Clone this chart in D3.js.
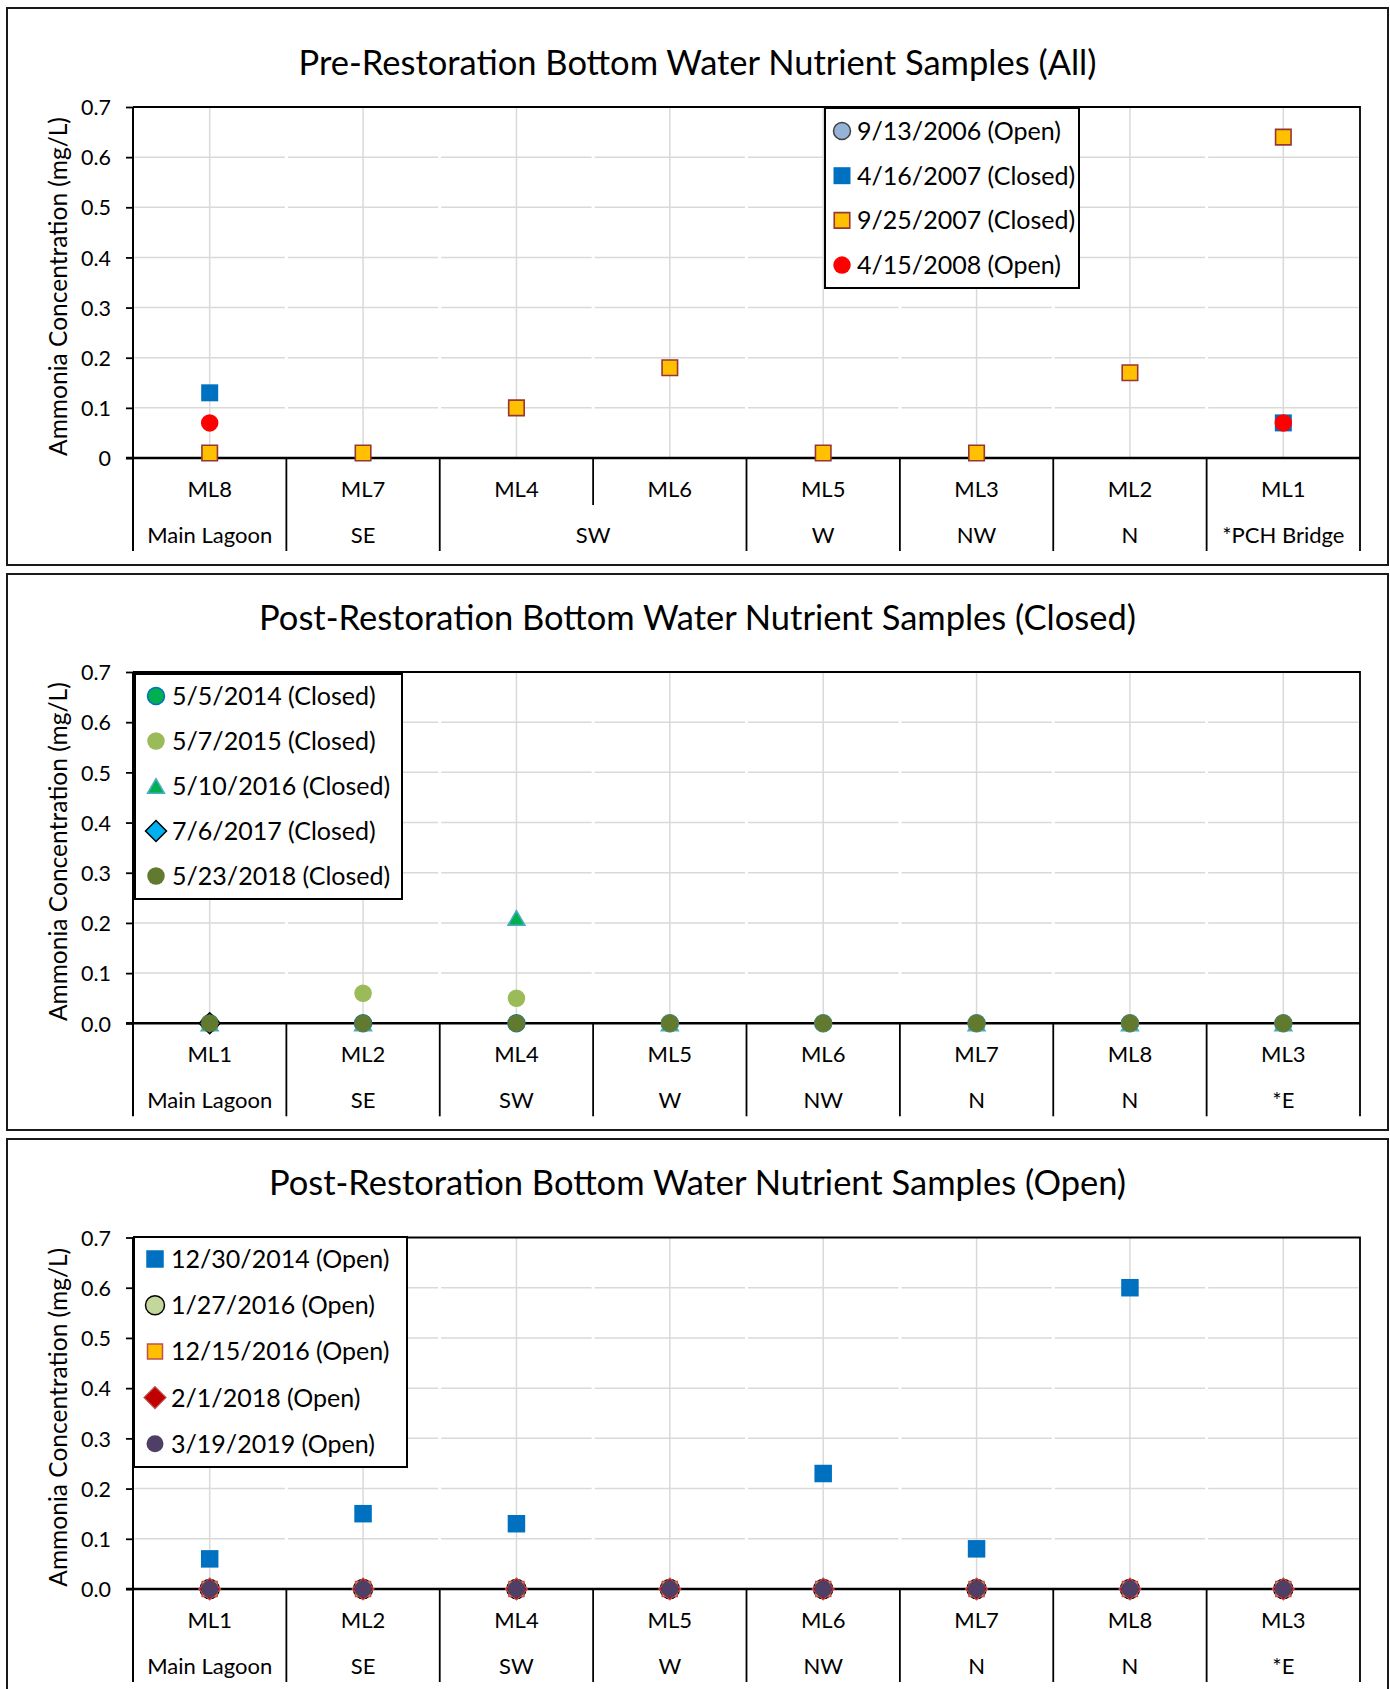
<!DOCTYPE html>
<html>
<head>
<meta charset="utf-8">
<script src="https://cdn.jsdelivr.net/npm/d3@7"></script>
<style>
  body { margin: 0; background: #fff; }
  svg { display: block; }
  text { fill: #000; }
</style>
</head>
<body>
<svg id="chart" width="1390" height="1689"></svg>
<script>
// ---------------- data ----------------
const yTickValues = [0, 0.1, 0.2, 0.3, 0.4, 0.5, 0.6, 0.7];
const yAxisTitle = "Ammonia Concentration (mg/L)";

// Pre-restoration, all conditions
const preTitle = "Pre-Restoration Bottom Water Nutrient Samples (All)";
const preSites = ["ML8", "ML7", "ML4", "ML6", "ML5", "ML3", "ML2", "ML1"];
const preRegions = ["Main Lagoon", "SE", "SW", "W", "NW", "N", "*PCH Bridge"];
const preRegionSpans = [1, 1, 2, 1, 1, 1, 1];
const preDates = ["9/13/2006 (Open)", "4/16/2007 (Closed)", "9/25/2007 (Closed)", "4/15/2008 (Open)"];
const pre20060913 = [null, null, null, null, null, null, null, null];
const pre20070416 = [0.13, null, null, null, null, null, null, 0.07];
const pre20070925 = [0.01, 0.01, 0.10, 0.18, 0.01, 0.01, 0.17, 0.64];
const pre20080415 = [0.07, null, null, null, null, null, null, 0.07];

// Post-restoration sites (shared by the closed and open charts)
const postSites = ["ML1", "ML2", "ML4", "ML5", "ML6", "ML7", "ML8", "ML3"];
const postRegions = ["Main Lagoon", "SE", "SW", "W", "NW", "N", "N", "*E"];
const postRegionSpans = [1, 1, 1, 1, 1, 1, 1, 1];

// Post-restoration, mouth closed
const closedTitle = "Post-Restoration Bottom Water Nutrient Samples (Closed)";
const closedDates = ["5/5/2014 (Closed)", "5/7/2015 (Closed)", "5/10/2016 (Closed)", "7/6/2017 (Closed)", "5/23/2018 (Closed)"];
const closed20140505 = [0, 0, 0, 0, 0, 0, 0, 0];
const closed20150507 = [0, 0.06, 0.05, 0, 0, 0, 0, 0];
const closed20160510 = [0, 0, 0.21, 0, null, 0, 0, 0];
const closed20170706 = [0, null, null, null, null, null, null, null];
const closed20180523 = [0, 0, 0, 0, 0, 0, 0, 0];

// Post-restoration, mouth open
const openTitle = "Post-Restoration Bottom Water Nutrient Samples (Open)";
const openDates = ["12/30/2014 (Open)", "1/27/2016 (Open)", "12/15/2016 (Open)", "2/1/2018 (Open)", "3/19/2019 (Open)"];
const open20141230 = [0.06, 0.15, 0.13, null, 0.23, 0.08, 0.60, null];
const open20160127 = [0, 0, 0, 0, 0, 0, 0, 0];
const open20161215 = [0, 0, 0, 0, 0, 0, 0, 0];
const open20180201 = [0, 0, 0, 0, 0, 0, 0, 0];
const open20190319 = [0, 0, 0, 0, 0, 0, 0, 0];

// ---------------- marker shapes ----------------
const FONT = "Lato, 'Open Sans', 'DejaVu Sans', sans-serif";
const CAP = 0.716; // cap height of the font, in em

const shapeSquare = { draw(ctx, size) { const h = Math.sqrt(size) / 2; ctx.rect(-h, -h, 2 * h, 2 * h); } };
const shapeDiamond = { draw(ctx, size) { const r = Math.sqrt(size / 2); ctx.moveTo(0, -r); ctx.lineTo(r, 0); ctx.lineTo(0, r); ctx.lineTo(-r, 0); ctx.closePath(); } };
const shapeTriangle = { draw(ctx, size) { const s = Math.sqrt(size * 4 / Math.sqrt(3)); const h = s * Math.sqrt(3) / 2; ctx.moveTo(0, -h / 2); ctx.lineTo(s / 2, h / 2); ctx.lineTo(-s / 2, h / 2); ctx.closePath(); } };
const shapeCircle = d3.symbolCircle;

const sq = s => s * s;
const circ = d => Math.PI * d * d / 4;
const tri = s => Math.sqrt(3) / 4 * s * s;
const dia = r => 2 * r * r;

// ---------------- chart definitions ----------------
const panels = [
  {
    title: preTitle, titleBaseline: 75,
    frame: { y: 8, h: 557 },
    plotTop: 107, plotZero: 458,
    sites: preSites, regions: preRegions, spans: preRegionSpans,
    format: v => v === 0 ? "0" : d3.format(".1f")(v),
    legend: { x: 825, y: 108, w: 254, h: 180, first: 23, gap: 44.7, mdx: 17, tdx: 32 },
    series: [
      { name: preDates[0], values: pre20060913, shape: shapeCircle, size: circ(17), fill: "#95b3d7", stroke: "#404040", sw: 1.5 },
      { name: preDates[1], values: pre20070416, shape: shapeSquare, size: sq(17), fill: "#0070c0", stroke: "none", sw: 0 },
      { name: preDates[2], values: pre20070925, shape: shapeSquare, size: sq(15.5), fill: "#ffc000", stroke: "#953735", sw: 1.6 },
      { name: preDates[3], values: pre20080415, shape: shapeCircle, size: circ(17.5), fill: "#ff0000", stroke: "none", sw: 0 }
    ]
  },
  {
    title: closedTitle, titleBaseline: 629.5,
    frame: { y: 574, h: 556 },
    plotTop: 672, plotZero: 1023.3,
    sites: postSites, regions: postRegions, spans: postRegionSpans,
    format: d3.format(".1f"),
    legend: { x: 135, y: 674, w: 267, h: 225, first: 22, gap: 45, mdx: 21, tdx: 37 },
    series: [
      { name: closedDates[0], values: closed20140505, shape: shapeCircle, size: circ(17), fill: "#00b050", stroke: "#0070c0", sw: 1.5 },
      { name: closedDates[1], values: closed20150507, shape: shapeCircle, size: circ(17.5), fill: "#9bbb59", stroke: "none", sw: 0 },
      { name: closedDates[2], values: closed20160510, shape: shapeTriangle, size: tri(17), fill: "#00b050", stroke: "#4bacc6", sw: 1.5 },
      { name: closedDates[3], values: closed20170706, shape: shapeDiamond, size: dia(10.5), fill: "#00b0f0", stroke: "#000", sw: 1.5 },
      { name: closedDates[4], values: closed20180523, shape: shapeCircle, size: circ(17.5), fill: "#617a30", stroke: "none", sw: 0 }
    ]
  },
  {
    title: openTitle, titleBaseline: 1194.5,
    frame: { y: 1139, h: 600 },
    plotTop: 1237.5, plotZero: 1589,
    sites: postSites, regions: postRegions, spans: postRegionSpans,
    format: d3.format(".1f"),
    legend: { x: 134, y: 1237, w: 273, h: 230, first: 22, gap: 46.2, mdx: 21, tdx: 37 },
    series: [
      { name: openDates[0], values: open20141230, shape: shapeSquare, size: sq(17.5), fill: "#0070c0", stroke: "none", sw: 0 },
      { name: openDates[1], values: open20160127, shape: shapeCircle, size: circ(19), fill: "#c4d79b", stroke: "#000", sw: 1.5 },
      { name: openDates[2], values: open20161215, shape: shapeSquare, size: sq(15), fill: "#ffc000", stroke: "#c0504d", sw: 1.5 },
      { name: openDates[3], values: open20180201, shape: shapeDiamond, size: dia(11), fill: "#c00000", stroke: "#c0504d", sw: 1.2 },
      { name: openDates[4], values: open20190319, shape: shapeCircle, size: circ(17), fill: "#4f3e66", stroke: "none", sw: 0 }
    ]
  }
];

// ---------------- drawing ----------------
const svg = d3.select("#chart");
const plotLeft = 133, plotRight = 1360;
const frameLeft = 7, frameRight = 1388;

function fitFont(str, target) {
  const t = svg.append("text").style("font-family", FONT).style("font-size", "100px").text(str);
  const w = t.node().getComputedTextLength();
  t.remove();
  return 100 * target / w;
}

const titleFs = fitFont(preTitle, 798);
const legendFs = fitFont(preDates[0], 204);
const catFs = fitFont("Main Lagoon", 125);
const tickFs = fitFont("0.7", 30);
const axisTitleFs = fitFont(yAxisTitle, 339);

panels.forEach(p => {
  const g = svg.append("g");

  // outer chart frame
  g.append("rect")
    .attr("x", frameLeft).attr("y", p.frame.y)
    .attr("width", frameRight - frameLeft).attr("height", p.frame.h)
    .attr("fill", "#fff").attr("stroke", "#1a1a1a").attr("stroke-width", 2);

  // title
  g.append("text")
    .attr("x", (frameLeft + frameRight) / 2).attr("y", p.titleBaseline)
    .attr("text-anchor", "middle")
    .style("font-family", FONT).style("font-size", titleFs + "px")
    .text(p.title);

  const x = d3.scaleBand().domain(p.sites).range([plotLeft, plotRight]).padding(0);
  const bw = x.bandwidth();
  const cx = s => x(s) + bw / 2;
  const y = d3.scaleLinear().domain([0, 0.7]).range([p.plotZero, p.plotTop]);

  // horizontal gridlines, broken at each category boundary
  const grid = g.append("g").attr("stroke", "#d9d9d9").attr("stroke-width", 1.5);
  yTickValues.filter(v => v > 0 && v < 0.7).forEach(v => {
    grid.selectAll(null).data(p.sites).join("line")
      .attr("x1", s => x(s) + 1.5).attr("x2", s => x(s) + bw - 1.5)
      .attr("y1", y(v)).attr("y2", y(v));
  });
  // vertical gridlines at category centres
  grid.selectAll(null).data(p.sites).join("line")
    .attr("x1", cx).attr("x2", cx)
    .attr("y1", y(0.7)).attr("y2", y(0));

  // plot area outline (top and right)
  g.append("path")
    .attr("d", `M${plotLeft},${y(0.7)}H${plotRight}V${y(0) + 93}`)
    .attr("fill", "none").attr("stroke", "#000").attr("stroke-width", 1.8);

  // y axis with ticks and labels
  const yAxis = d3.axisLeft(y).tickValues(yTickValues).tickFormat(p.format)
    .tickSizeInner(7).tickSizeOuter(0).tickPadding(15);
  const ya = g.append("g").attr("transform", `translate(${plotLeft},0)`).call(yAxis);
  ya.select(".domain").remove();
  ya.selectAll(".tick line").attr("stroke", "#000").attr("stroke-width", 1.8);
  ya.selectAll(".tick text")
    .attr("dy", (CAP / 2) + "em")
    .style("font-family", FONT).style("font-size", tickFs + "px").attr("fill", "#000");

  // y axis line, continued down through the category label area
  g.append("line")
    .attr("x1", plotLeft).attr("x2", plotLeft)
    .attr("y1", y(0.7)).attr("y2", y(0) + 93)
    .attr("stroke", "#000").attr("stroke-width", 2);

  // x axis line
  g.append("line")
    .attr("x1", plotLeft - 7).attr("x2", plotRight)
    .attr("y1", y(0)).attr("y2", y(0))
    .attr("stroke", "#000").attr("stroke-width", 2.4);

  // category separators: full height between regions, short between sites of one region
  const groupStarts = d3.cumsum([0].concat(p.spans.slice(0, -1)));
  const fullIdx = new Set(groupStarts.map(d => d));
  const sepG = g.append("g").attr("stroke", "#000").attr("stroke-width", 1.8);
  sepG.selectAll(null).data(p.sites.slice(1)).join("line")
    .attr("x1", s => x(s)).attr("x2", s => x(s))
    .attr("y1", y(0))
    .attr("y2", (s, i) => y(0) + (fullIdx.has(i + 1) ? 93 : 47));

  // site labels
  g.append("g").selectAll("text").data(p.sites).join("text")
    .attr("x", cx).attr("y", y(0) + 38.5)
    .attr("text-anchor", "middle")
    .style("font-family", FONT).style("font-size", catFs + "px")
    .text(d => d);

  // region labels, centred over the sites they cover
  g.append("g").selectAll("text").data(p.regions).join("text")
    .attr("x", (d, i) => {
      const a = p.sites[groupStarts[i]];
      const b = p.sites[groupStarts[i] + p.spans[i] - 1];
      return (x(a) + x(b) + bw) / 2;
    })
    .attr("y", y(0) + 85)
    .attr("text-anchor", "middle")
    .style("font-family", FONT).style("font-size", catFs + "px")
    .text(d => d);

  // y axis title
  const plotMid = (y(0) + y(0.7)) / 2 + 4;
  g.append("text")
    .attr("transform", `translate(${58 + axisTitleFs * CAP / 2},${plotMid}) rotate(-90)`)
    .attr("text-anchor", "middle")
    .style("font-family", FONT).style("font-size", axisTitleFs + "px")
    .text(yAxisTitle);

  // markers, later series on top
  p.series.forEach(s => {
    const pts = p.sites.map((site, i) => ({ site, v: s.values[i] })).filter(d => d.v != null);
    g.append("g").selectAll("path").data(pts).join("path")
      .attr("transform", d => `translate(${cx(d.site)},${y(d.v)})`)
      .attr("d", d3.symbol(s.shape, s.size))
      .attr("fill", s.fill).attr("stroke", s.stroke).attr("stroke-width", s.sw);
  });

  // legend
  const L = p.legend;
  const lg = g.append("g").attr("transform", `translate(${L.x},${L.y})`);
  lg.append("rect").attr("width", L.w).attr("height", L.h)
    .attr("fill", "#fff").attr("stroke", "#000").attr("stroke-width", 2);
  const rows = lg.selectAll("g.row").data(p.series).join("g")
    .attr("class", "row")
    .attr("transform", (d, i) => `translate(0,${L.first + i * L.gap})`);
  rows.append("path")
    .attr("transform", `translate(${L.mdx},0)`)
    .attr("d", d => d3.symbol(d.shape, d.size)())
    .attr("fill", d => d.fill).attr("stroke", d => d.stroke).attr("stroke-width", d => d.sw);
  rows.append("text")
    .attr("x", L.tdx).attr("y", legendFs * CAP / 2)
    .style("font-family", FONT).style("font-size", legendFs + "px")
    .text(d => d.name);
});
</script>
</body>
</html>
